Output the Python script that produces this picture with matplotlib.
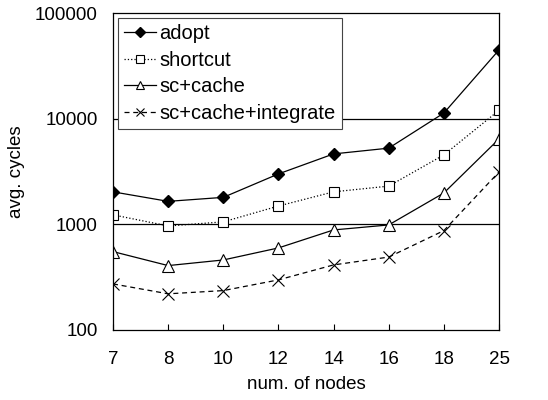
import numpy as np
import matplotlib.pyplot as plt

plt.rcParams['font.family'] = ['Liberation Sans', 'DejaVu Sans']

nodes = ['7', '8', '10', '12', '14', '16', '18', '25']
adopt = [2030, 1650, 1800, 3000, 4640, 5260, 11300, 44700]
shortcut = [1230, 965, 1055, 1490, 2030, 2300, 4540, 12000]
sc_cache = [552, 407, 460, 598, 885, 987, 1980, 6430]
sc_cache_int = [273, 220, 236, 298, 413, 490, 872, 3130]

fig = plt.figure(figsize=(5.48, 4.0), dpi=100)
ax = fig.add_axes([113/548, 1 - 330/400, 386/548, 317/400])

x = np.arange(len(nodes))
ax.plot(x, adopt, '-', color='black', lw=0.9, marker='D', ms=6,
        mfc='black', label='adopt')
ax.plot(x, shortcut, ':', color='black', lw=0.9, marker='s', ms=7,
        mfc='white', mew=0.8, label='shortcut')
ax.plot(x, sc_cache, '-', color='black', lw=0.9, marker='^', ms=8,
        mfc='white', mew=0.8, label='sc+cache')
ax.plot(x, sc_cache_int, '--', color='black', lw=0.9, marker='x', ms=8,
        mew=0.8, dashes=(4, 3), label='sc+cache+integrate')

ax.set_yscale('log')
ax.set_ylim(100, 100000)
ax.set_xlim(0, len(nodes) - 1)
ax.set_yticks([100, 1000, 10000, 100000])
ax.set_yticklabels(['100', '1000', '10000', '100000'])
ax.minorticks_off()
ax.set_xticks(x)
ax.set_xticklabels(nodes)
for yv in [1000, 10000]:
    ax.axhline(yv, color='black', lw=0.9, zorder=0)

ax.tick_params(axis='y', length=0, labelsize=13.5, pad=11)
ax.tick_params(axis='x', direction='in', length=4, labelsize=13.5, pad=15)
for s in ax.spines.values():
    s.set_linewidth(0.9)

ax.set_xlabel('num. of nodes', fontsize=13.5, labelpad=6)
ax.set_ylabel('avg. cycles', fontsize=13.5, labelpad=7)

leg = ax.legend(loc='upper left', fontsize=14.5, handlelength=1.6,
                handletextpad=0.15, borderpad=0.3, labelspacing=0.38,
                fancybox=False, framealpha=1, borderaxespad=0.25,
                markerscale=0.8)
leg.get_frame().set_edgecolor('#444444')
leg.get_frame().set_linewidth(0.8)

fig.savefig('out.png', dpi=100)
